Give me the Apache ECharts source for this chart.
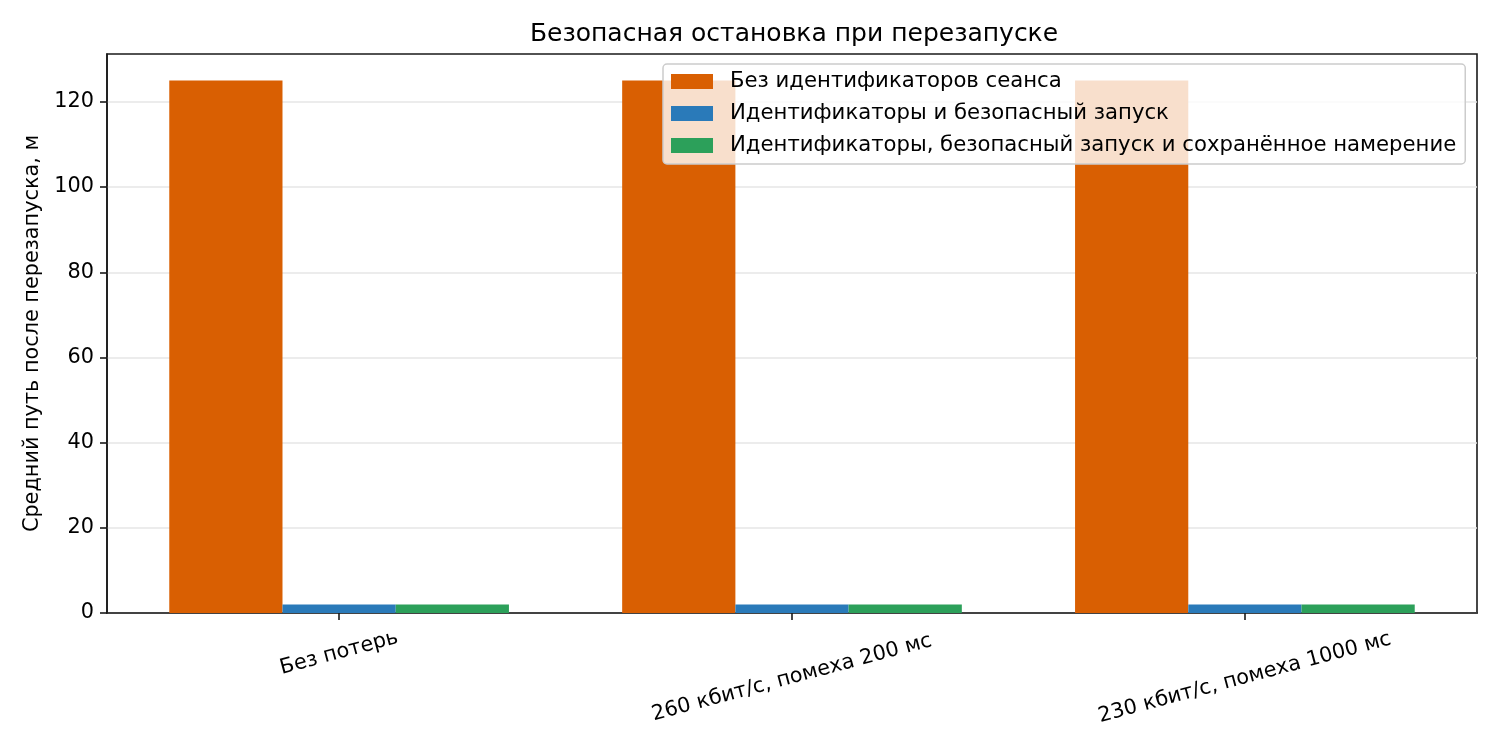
<!DOCTYPE html>
<html>
<head>
<meta charset="utf-8">
<title>Безопасная остановка при перезапуске</title>
<script src="https://cdn.jsdelivr.net/npm/echarts@6/dist/echarts.min.js"></script>
<style>
	html, body { margin: 0; padding: 0; background: #fff; }
	#chart { width: 1500px; height: 750px; }
</style>
</head>
<body>
<div id="chart"></div>
<script>
	var categories = [ 'Без потерь', '260 кбит/с, помеха 200 мс', '230 кбит/с, помеха 1000 мс' ];
	var seriesNames = [ 'Без идентификаторов сеанса', 'Идентификаторы и безопасный запуск',
			'Идентификаторы, безопасный запуск и сохранённое намерение' ];
	var noIdsValues = [ 125, 125, 125 ];
	var idsSafeValues = [ 2, 2, 2 ];
	var idsSafeIntentValues = [ 2, 2, 2 ];
	var yTicks = [ 0, 20, 40, 60, 80, 100, 120 ];
	var yMax = 131.25;

	var colors = [ '#d95f02', '#2a7ab9', '#2ca05a' ];
	var font = 'DejaVu Sans';
	var fs = 20.8;

	function toPoints(values) {
		return values.map(function(v, i) {
			return [ i, v ];
		});
	}

	var catIndex = categories.map(function(c, i) {
		return i;
	});

	var allValues = [ noIdsValues, idsSafeValues, idsSafeIntentValues ];
	var series = allValues.map(function(values, k) {
		return {
			name : seriesNames[k],
			type : 'bar',
			barWidth : '25%',
			barGap : '0%',
			itemStyle : {
				color : colors[k]
			},
			data : toPoints(values)
		};
	});

	var chart = echarts.init(document.getElementById('chart'));
	var option = {
		backgroundColor : '#ffffff',
		animation : false,
		textStyle : {
			fontFamily : font
		},
		title : {
			text : 'Безопасная остановка при перезапуске',
			left : 789,
			top : 17,
			textAlign : 'center',
			textStyle : {
				fontFamily : font,
				fontSize : 25,
				fontWeight : 'normal',
				color : '#000'
			}
		},
		legend : {
			orient : 'vertical',
			left : 663,
			top : 64,
			padding : [ 7, 9, 8, 8 ],
			itemWidth : 42,
			itemHeight : 15,
			itemGap : 11,
			icon : 'rect',
			backgroundColor : 'rgba(255,255,255,0.8)',
			borderColor : '#cccccc',
			borderWidth : 1.5,
			borderRadius : 4,
			textStyle : {
				fontFamily : font,
				fontSize : 21.2,
				color : '#000',
				padding : [ 0, 0, 0, 12 ]
			},
			data : seriesNames
		},
		grid : {
			left : 107,
			right : 23,
			top : 54,
			bottom : 137,
			show : true,
			borderColor : '#1a1a1a',
			borderWidth : 1.6
		},
		xAxis : {
			type : 'value',
			min : -0.5125,
			max : 2.5125,
			axisLine : {
				show : true,
				onZero : false,
				lineStyle : {
					color : '#1a1a1a',
					width : 1.6
				}
			},
			axisTick : {
				show : true,
				length : 7,
				customValues : catIndex,
				lineStyle : {
					color : '#1a1a1a',
					width : 1.6
				}
			},
			splitLine : {
				show : false
			},
			axisLabel : {
				customValues : catIndex,
				rotate : 15,
				align : 'center',
				verticalAlign : 'middle',
				margin : 40,
				fontFamily : font,
				fontSize : fs,
				color : '#000',
				formatter : function(v) {
					var text = categories[Math.round(v)];
					return text.length > 15 ? '{l|' + text + '}' : '{s|' + text + '}';
				},
				rich : {
					s : {
						fontFamily : font,
						fontSize : fs,
						color : '#000'
					},
					l : {
						fontFamily : font,
						fontSize : fs,
						color : '#000',
						padding : [ 48, 13, 0, 0 ]
					}
				}
			}
		},
		yAxis : {
			type : 'value',
			min : 0,
			max : yMax,
			name : 'Средний путь после перезапуска, м',
			nameLocation : 'middle',
			nameGap : 55,
			nameTextStyle : {
				fontFamily : font,
				fontSize : fs,
				color : '#000'
			},
			axisLine : {
				show : true,
				onZero : false,
				lineStyle : {
					color : '#1a1a1a',
					width : 1.6
				}
			},
			axisTick : {
				show : true,
				length : 7,
				customValues : yTicks,
				lineStyle : {
					color : '#1a1a1a',
					width : 1.6
				}
			},
			axisLabel : {
				customValues : yTicks,
				margin : 13,
				padding : [ 4, 0, 0, 0 ],
				fontFamily : font,
				fontSize : fs,
				color : '#000'
			},
			splitLine : {
				show : true,
				lineStyle : {
					color : '#e6e6e6',
					width : 1.5
				}
			}
		},
		series : series
	};
	chart.setOption(option);
</script>
</body>
</html>
